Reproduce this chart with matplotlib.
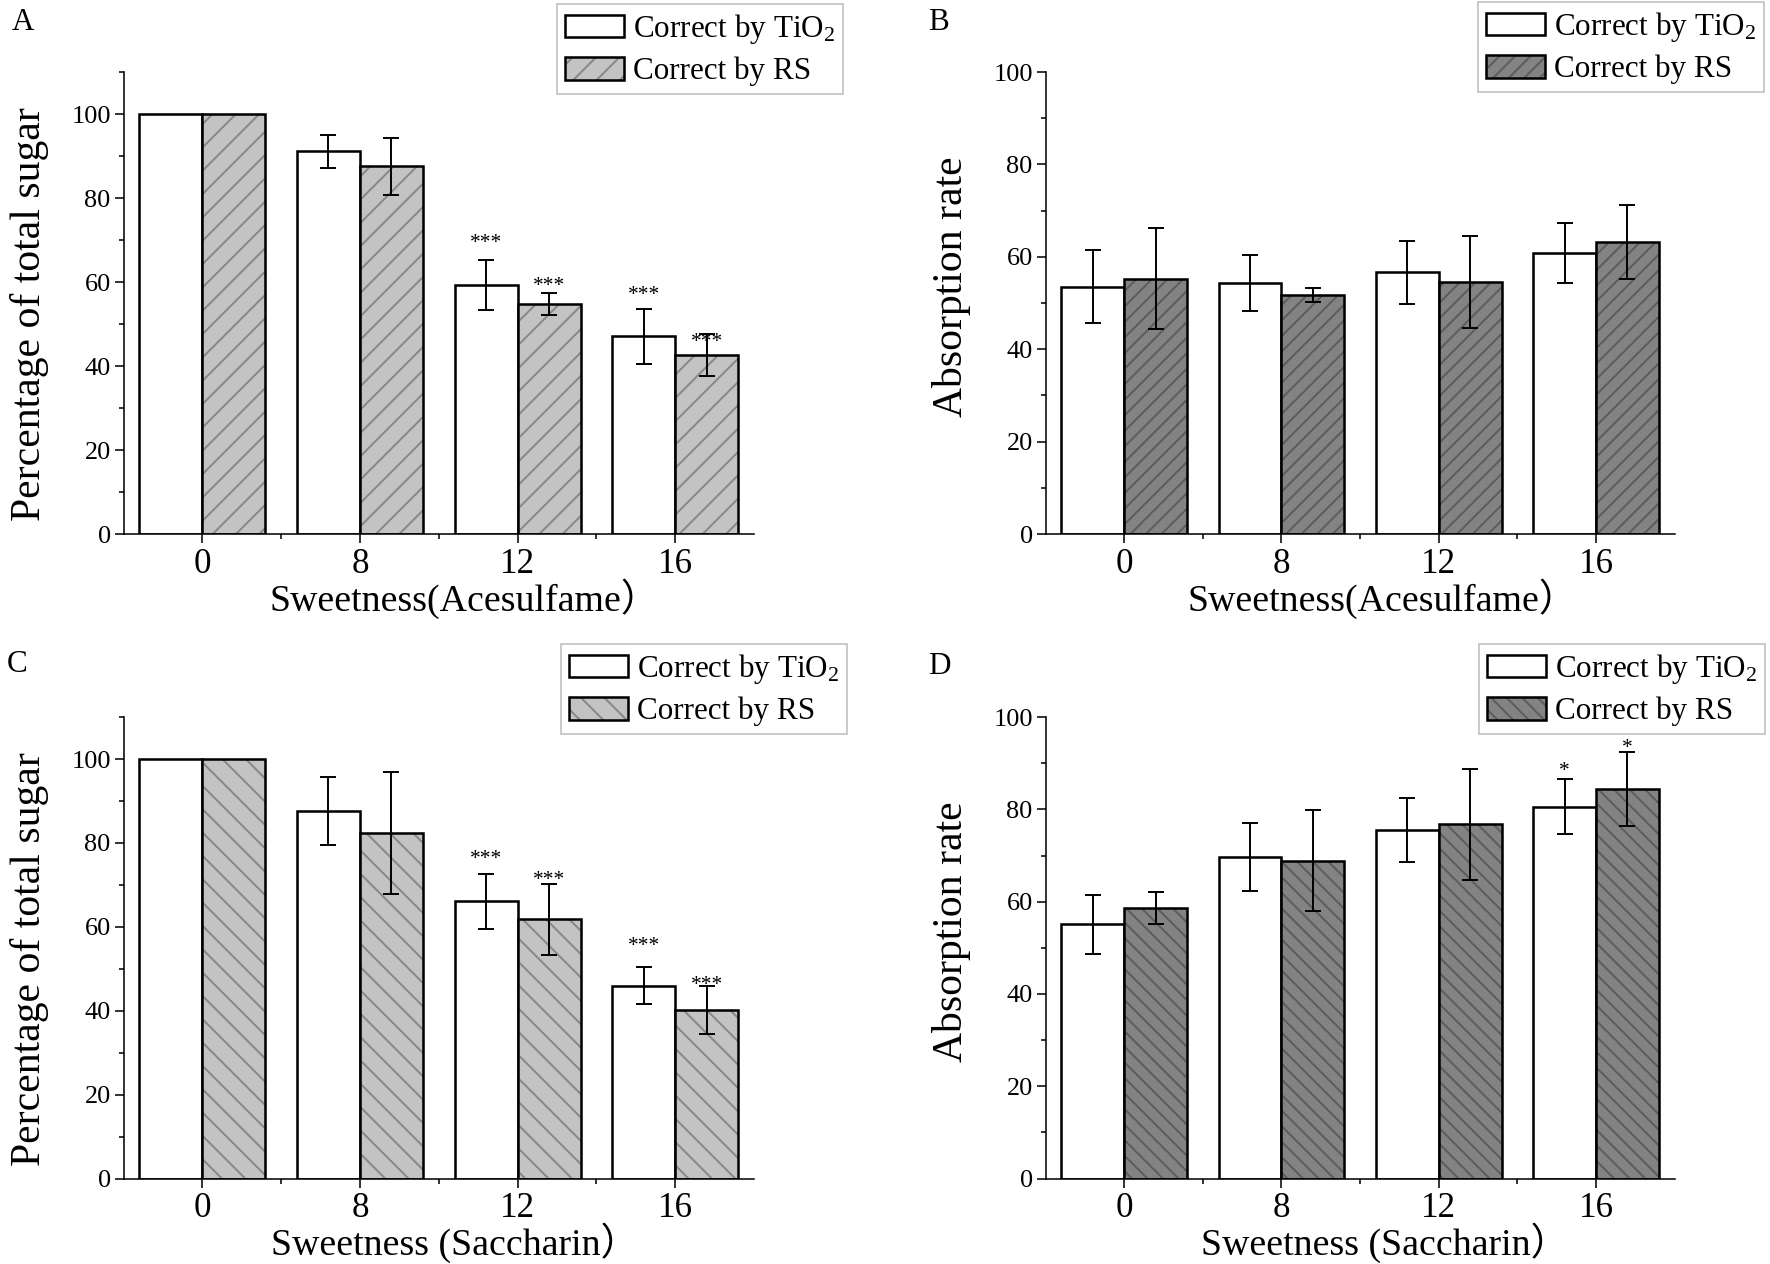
import numpy as np
import matplotlib
matplotlib.use("Agg")
import matplotlib.pyplot as plt
from matplotlib.patches import Patch
from matplotlib.ticker import MultipleLocator, FixedLocator

plt.rcParams['font.family'] = ['Liberation Serif', 'Noto Sans CJK TC']
plt.rcParams['mathtext.fontset'] = 'custom'
plt.rcParams['mathtext.rm'] = 'Liberation Serif'
plt.rcParams['mathtext.it'] = 'Liberation Serif:italic'
plt.rcParams['hatch.linewidth'] = 1.0

nan = np.nan

# sweetness levels
sweet = ['0', '8', '12', '16']

# A: Acesulfame, percentage of total sugar
a_tio2 = [100, 91.1, 59.3, 47.1]
a_tio2_err = [nan, 4.0, 5.9, 6.5]
a_rs = [100, 87.6, 54.8, 42.7]
a_rs_err = [nan, 6.8, 2.6, 5.0]
a_tio2_star = ['', '', '***', '***']
a_tio2_star_y = [nan, nan, 70.9, 58.4]
a_rs_star = ['', '', '***', '***']
a_rs_star_y = [nan, nan, 60.6, 47.3]

# B: Acesulfame, absorption rate
b_tio2 = [53.5, 54.4, 56.7, 60.8]
b_tio2_err = [7.9, 6.1, 6.8, 6.5]
b_rs = [55.3, 51.8, 54.5, 63.3]
b_rs_err = [11.0, 1.5, 10.0, 8.0]

# C: Saccharin, percentage of total sugar
c_tio2 = [100, 87.6, 66.1, 46.0]
c_tio2_err = [nan, 8.0, 6.5, 4.5]
c_rs = [100, 82.4, 61.8, 40.1]
c_rs_err = [nan, 14.5, 8.5, 5.7]
c_tio2_star = ['', '', '***', '***']
c_tio2_star_y = [nan, nan, 77.6, 56.9]
c_rs_star = ['', '', '***', '***']
c_rs_star_y = [nan, nan, 72.6, 47.7]

# D: Saccharin, absorption rate
d_tio2 = [55.1, 69.7, 75.5, 80.6]
d_tio2_err = [6.4, 7.3, 7.0, 5.9]
d_rs = [58.6, 68.9, 76.8, 84.4]
d_rs_err = [3.5, 11.0, 12.0, 8.1]
d_tio2_star = ['', '', '', '*']
d_tio2_star_y = [nan, nan, nan, 89.7]
d_rs_star = ['', '', '', '*']
d_rs_star_y = [nan, nan, nan, 94.7]

lab_tio2 = 'Correct by TiO$_2$'
lab_rs = 'Correct by RS'

DPI = 140
fig = plt.figure(figsize=(1770 / DPI, 1264 / DPI), dpi=DPI)

EDGE_LW = 1.3


def draw_panel(rect, tio2, tio2_err, rs, rs_err, fill, hcol, hatch, ytop,
               ylabel, xlabel, xlab_x, ylab_y, leg_xy, letter, letter_xy,
               stars=None):
    ax = fig.add_axes(rect)
    x = np.arange(len(sweet))
    xw = x - 0.2
    xr = x + 0.2
    ax.bar(xw, tio2, 0.4, color='white', edgecolor='black', linewidth=EDGE_LW, zorder=2)
    # hatched layer first, then black outline on top
    ax.bar(xr, rs, 0.4, color=fill, edgecolor=hcol, hatch=hatch, linewidth=0, zorder=2)
    ax.bar(xr, rs, 0.4, fill=False, edgecolor='black', linewidth=EDGE_LW, zorder=3)

    for xx, yy, ee in [(xw, tio2, tio2_err), (xr, rs, rs_err)]:
        ee = np.array(ee, dtype=float)
        ok = np.isfinite(ee)
        ax.errorbar(np.array(xx)[ok], np.array(yy)[ok], yerr=ee[ok], fmt='none',
                    ecolor='black', elinewidth=1.0, capsize=3.9, capthick=1.0, zorder=4)

    if stars is not None:
        for xx, labs, ys in [(xw, stars[0], stars[1]), (xr, stars[2], stars[3])]:
            for xi, s, yi in zip(xx, labs, ys):
                if s:
                    ax.annotate(s, (xi, yi), xytext=(0, -5.8), textcoords='offset points',
                                ha='center', va='baseline', fontsize=11)

    ax.set_xlim(-0.5, 3.5)
    ax.set_ylim(0, ytop)
    ax.spines['top'].set_visible(False)
    ax.spines['right'].set_visible(False)
    ax.spines['left'].set_linewidth(0.8)
    ax.spines['bottom'].set_linewidth(0.8)

    ax.set_xticks(x)
    ax.set_xticklabels(sweet, fontsize=18)
    ax.xaxis.set_minor_locator(FixedLocator([0.5, 1.5, 2.5]))
    ax.yaxis.set_major_locator(MultipleLocator(20))
    ax.yaxis.set_minor_locator(MultipleLocator(10))
    ax.tick_params(axis='both', which='major', direction='out', length=4.6, width=0.8)
    ax.tick_params(axis='both', which='minor', direction='out', length=2.6, width=0.8)
    ax.tick_params(axis='y', labelsize=13.5, pad=2)
    ax.tick_params(axis='x', pad=2.5)

    ax.set_ylabel(ylabel, fontsize=21.5)
    ax.yaxis.set_label_coords(-0.118, ylab_y)
    ax.set_xlabel(xlabel, fontsize=19.5)
    ax.xaxis.set_label_coords(xlab_x, -0.096)

    h_w = Patch(facecolor='white', edgecolor='black', linewidth=EDGE_LW)
    h_r = (Patch(facecolor=fill, edgecolor=hcol, hatch=hatch, linewidth=0),
           Patch(facecolor='none', edgecolor='black', linewidth=EDGE_LW))
    leg = ax.legend([h_w, h_r], [lab_tio2, lab_rs], loc='upper left',
                    bbox_to_anchor=leg_xy, bbox_transform=fig.transFigure,
                    fontsize=16, frameon=True, fancybox=False, framealpha=1,
                    borderpad=0.25, labelspacing=0.35, handlelength=1.9,
                    handleheight=0.75, handletextpad=0.3, borderaxespad=0)
    leg.get_frame().set_edgecolor('#bdbdbd')
    leg.get_frame().set_linewidth(0.8)

    fig.text(letter_xy[0], letter_xy[1], letter, fontsize=16, ha='left', va='top')
    return ax


draw_panel([0.0698, 0.5775, 0.3562, 0.3655], a_tio2, a_tio2_err, a_rs, a_rs_err,
           '#c3c3c3', '#878787', '//', 110,
           'Percentage of total sugar', 'Sweetness(Acesulfame）', 0.54, 0.476,
           (557 / 1770, 1 - 4 / 1264), 'A', (12 / 1770, 1 - 8 / 1264),
           stars=(a_tio2_star, a_tio2_star_y, a_rs_star, a_rs_star_y))

draw_panel([0.5907, 0.5775, 0.3554, 0.3655], b_tio2, b_tio2_err, b_rs, b_rs_err,
           '#838383', '#5c5c5c', '///', 100,
           'Absorption rate', 'Sweetness(Acesulfame）', 0.535, 0.536,
           (1478 / 1770, 1 - 2 / 1264), 'B', (928 / 1770, 1 - 8 / 1264))

draw_panel([0.0698, 0.0676, 0.3562, 0.3651], c_tio2, c_tio2_err, c_rs, c_rs_err,
           '#c3c3c3', '#878787', '\\\\', 110,
           'Percentage of total sugar', 'Sweetness (Saccharin）', 0.525, 0.476,
           (561 / 1770, 1 - 644 / 1264), 'C', (7 / 1770, 1 - 650 / 1264),
           stars=(c_tio2_star, c_tio2_star_y, c_rs_star, c_rs_star_y))

draw_panel([0.5907, 0.0676, 0.3554, 0.3651], d_tio2, d_tio2_err, d_rs, d_rs_err,
           '#838383', '#5c5c5c', '\\\\\\', 100,
           'Absorption rate', 'Sweetness (Saccharin）', 0.54, 0.536,
           (1479 / 1770, 1 - 644 / 1264), 'D', (928 / 1770, 1 - 652 / 1264),
           stars=(d_tio2_star, d_tio2_star_y, d_rs_star, d_rs_star_y))

fig.savefig('out.png', dpi=DPI)
